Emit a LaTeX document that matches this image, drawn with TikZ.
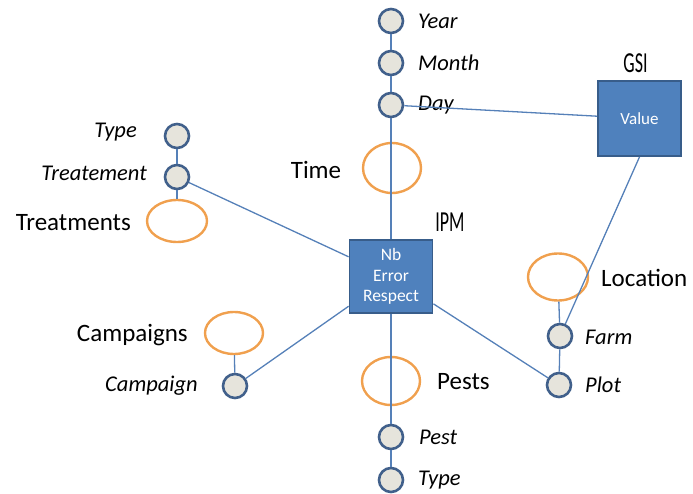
\documentclass[tikz,border=0pt]{standalone}
\usepackage{fontspec}
\setmainfont{Carlito}
\newfontfamily\condfont[FakeStretch=0.62]{Carlito}
\usetikzlibrary{shapes.geometric}
\definecolor{attrfill}{HTML}{E6E4DC}
\definecolor{attrdraw}{HTML}{41608B}
\definecolor{linkblue}{HTML}{5580B8}
\definecolor{dimorange}{HTML}{F0A04E}
\definecolor{boxfill}{HTML}{4F81BD}
\definecolor{boxdraw}{HTML}{385D8A}
\tikzset{
  attr/.style={circle,draw=attrdraw,fill=attrfill,line width=2.6pt,minimum size=24pt,inner sep=0pt},
  dim/.style={ellipse,draw=dimorange,line width=2.4pt,inner sep=0pt},
  fact/.style={rectangle,draw=boxdraw,fill=boxfill,line width=1.8pt,inner sep=0pt,text=white,align=center},
  link/.style={draw=linkblue,line width=1.3pt},
  biglabel/.style={inner sep=0pt,font=\fontsize{25}{30}\selectfont},
  attrlabel/.style={inner sep=0pt,font=\fontsize{22.5}{26}\selectfont\itshape},
  factlabel/.style={inner sep=0pt,font=\fontsize{29}{32}\condfont}
}
\begin{document}
\begin{tikzpicture}[x=1pt,y=-1pt]
\useasboundingbox (0,0) rectangle (693,494);
% Time dimension
\node[attr] (year) at (391,21) {};
\node[attr] (month) at (391,63) {};
\node[attr] (day) at (391,105) {};
\node[dim,minimum width=58pt,minimum height=50pt] (time) at (392,168) {};
\node[attrlabel,anchor=west] (lyear) at (418,21) {Year};
\node[attrlabel,anchor=west] (lmonth) at (418,63) {Month};
\node[attrlabel,anchor=west] (lday) at (418,105) {Day};
\node[biglabel] (ltime) at (316,170) {Time};
% GSI fact
\node[fact,minimum width=83pt,minimum height=75pt,font=\fontsize{17}{20}\selectfont] (gsi) at (639.5,118.5) {Value};
\node[factlabel] (lgsi) at (635.5,63) {GSI};
% IPM fact
\node[fact,minimum width=83pt,minimum height=73pt,font=\fontsize{17.5}{20.5}\selectfont] (ipm) at (391,276.5) {Nb\\Error\\Respect};
\node[factlabel] (lipm) at (450,222) {IPM};
% Treatments dimension
\node[attr] (ttype) at (177,136) {};
\node[attr] (treat) at (177,177) {};
\node[dim,minimum width=60pt,minimum height=42pt] (treats) at (177,221) {};
\node[attrlabel,anchor=east] (lttype) at (137,132) {Type};
\node[attrlabel,anchor=east] (ltreat) at (147,173) {Treatement};
\node[biglabel,anchor=east] (ltreats) at (131,223) {Treatments};
% Campaigns dimension
\node[dim,minimum width=58pt,minimum height=42pt] (camps) at (234,333) {};
\node[attr] (camp) at (235,386) {};
\node[biglabel,anchor=east] (lcamps) at (188,335) {Campaigns};
\node[attrlabel,anchor=east] (lcamp) at (198,386) {Campaign};
% Pests dimension
\node[dim,minimum width=58pt,minimum height=48pt] (pests) at (391,381) {};
\node[attr] (pest) at (391,437) {};
\node[attr] (ptype) at (391,480) {};
\node[biglabel,anchor=west] (lpests) at (437,382) {Pests};
\node[attrlabel,anchor=west] (lpest) at (419,437) {Pest};
\node[attrlabel,anchor=west] (lptype) at (418,480) {Type};
% Location dimension
\node[dim,minimum width=60pt,minimum height=47pt] (loc) at (558,277) {};
\node[attr] (farm) at (560,336) {};
\node[attr] (plot) at (559,385) {};
\node[biglabel,anchor=west] (lloc) at (601,278) {Location};
\node[attrlabel,anchor=west] (lfarm) at (585,337) {Farm};
\node[attrlabel,anchor=west] (lplot) at (585,385) {Plot};
% connectors
\draw[link] (year) -- (month);
\draw[link] (month) -- (day);
\draw[link] (day) -- (ipm);
\draw[link] (day) -- (gsi);
\draw[link] (gsi.south) -- (farm);
\draw[link] (ttype) -- (treat);
\draw[link] (treat) -- (treats);
\draw[link] (treat) -- (ipm);
\draw[link] (camps) -- (camp);
\draw[link] (camp) -- (ipm);
\draw[link] (ipm) -- (pest);
\draw[link] (pest) -- (ptype);
\draw[link] (loc) -- (farm);
\draw[link] (farm) -- (plot);
\draw[link] (ipm) -- (plot);
\end{tikzpicture}
\end{document}
